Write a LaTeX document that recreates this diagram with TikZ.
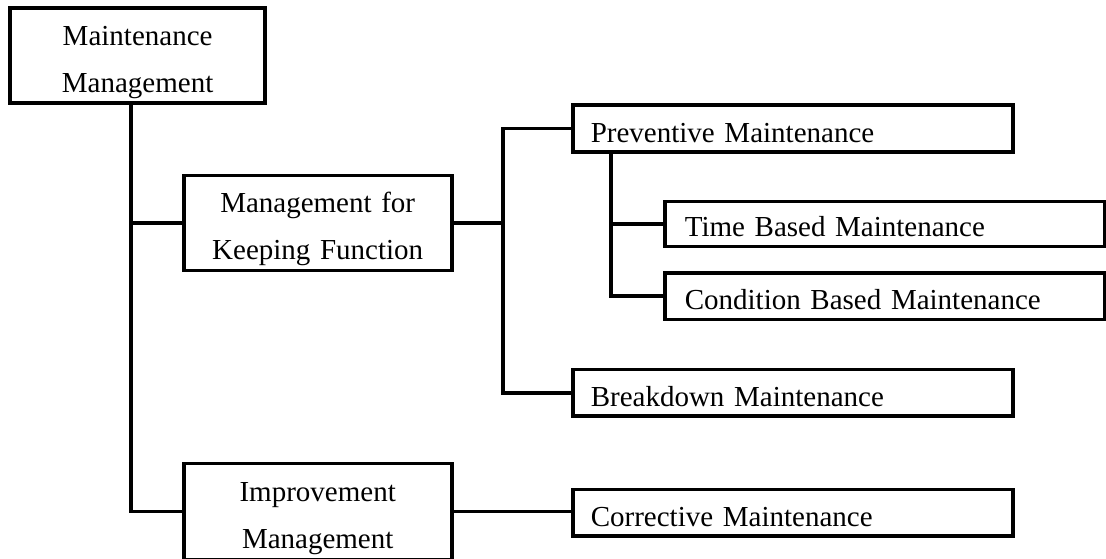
\documentclass[tikz,border=0pt]{standalone}
\usepackage{fontspec}
\setmainfont{Liberation Serif}
\newcommand{\upstrut}{\rule{0pt}{33pt}}
\newcommand{\downstrut}{\rule[-7pt]{0pt}{7pt}}
\begin{document}
\begin{tikzpicture}[x=1pt,y=-1pt,
  every node/.style={font=\fontsize{29pt}{47pt}\selectfont},
  frame/.style={draw, line width=3.6pt, inner sep=0pt},
  twoline/.style={frame, align=center, minimum width=#1, text width=#1},
  leaf/.style={frame, anchor=north west, align=left, inner xsep=18pt,
    text width=440pt-36pt, text depth=9.5pt},
  wire/.style={line width=3.6pt}]
\useasboundingbox (0,0) rectangle (1106,558);

% upper level
\node[twoline=254.7pt, minimum height=95pt] (mm) at (137.6,55.5)
  {\upstrut Maintenance\\Management\downstrut};
\node[twoline=268pt, minimum height=95pt] (mkf) at (317.7,222.8)
  {\upstrut Management for\\Keeping Function\downstrut};
\node[twoline=268pt, minimum height=96pt] (im) at (317.7,511.5)
  {\upstrut Improvement\\Management\downstrut};

% leaves
\node[leaf, text height=47pt-9.5pt] (pm) at (571,103) {Preventive Maintenance};
\node[leaf, inner xsep=20pt, text width=400pt, text height=45pt-9.5pt] (tbm) at (663,199.5) {Time Based Maintenance};
\node[leaf, inner xsep=20pt, text width=400pt, text height=46.5pt-9.5pt] (cbm) at (663,271) {Condition Based Maintenance};
\node[leaf, text height=46.5pt-9.5pt] (bm) at (571,367.7) {Breakdown Maintenance};
\node[leaf, text height=46.5pt-9.5pt] (cm) at (571,487.7) {Corrective Maintenance};

% connector rails
\coordinate (trunk) at (130.7,0);
\coordinate (split) at (503,0);
\coordinate (sub) at (610.7,0);

\draw[wire] (mm.south -| trunk) |- (mkf.west);
\draw[wire] (mm.south -| trunk) |- (im.west);
\draw[wire] (pm.west) -| (split |- mkf.east) -- (mkf.east);
\draw[wire] (bm.west) -| (split |- mkf.east);
\draw[wire] (sub |- pm.south) |- (tbm.west);
\draw[wire] (sub |- pm.south) |- (cbm.west);
\draw[wire] (im.east) -- (im.east -| cm.west);
\end{tikzpicture}
\end{document}
